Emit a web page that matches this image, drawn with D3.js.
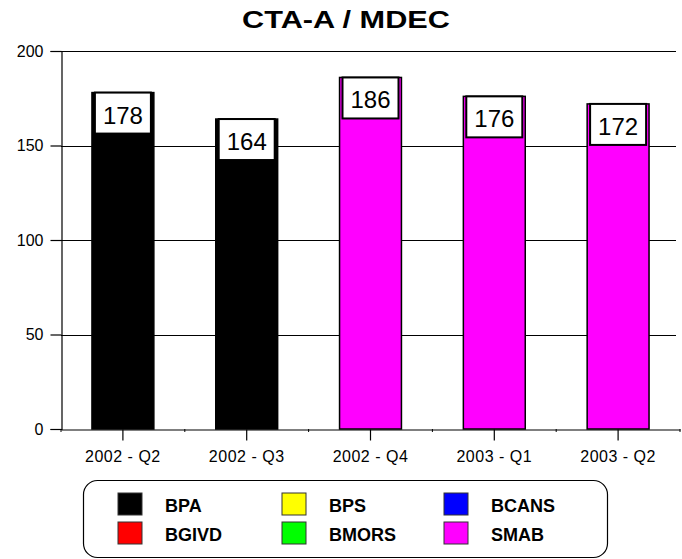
<!DOCTYPE html>
<html>
<head>
<meta charset="utf-8">
<script src="https://cdn.jsdelivr.net/npm/d3@7"></script>
<style>
  body { margin: 0; background: #fff; }
  svg { display: block; font-family: "Liberation Sans", Arial, sans-serif; }
</style>
</head>
<body>
<div id="chart"></div>
<script>
// Chart data
const quarters = ["2002 - Q2", "2002 - Q3", "2002 - Q4", "2003 - Q1", "2003 - Q2"];
const values = [178, 164, 186, 176, 172];
const barSeries = ["BPA", "BPA", "SMAB", "SMAB", "SMAB"];
const yTicks = [0, 50, 100, 150, 200];
const legendNames = ["BPA", "BPS", "BCANS", "BGIVD", "BMORS", "SMAB"];
const legendColors = ["#000000", "#ffff00", "#0000ff", "#ff0000", "#00ff00", "#ff00ff"];

const width = 682;
const height = 559;

const svg = d3.select("#chart")
    .append("svg")
    .attr("width", width)
    .attr("height", height);

const color = d3.scaleOrdinal().domain(legendNames).range(legendColors);

// Scales
const x = d3.scaleBand()
    .domain(quarters)
    .range([61, 680])
    .paddingInner(0.5)
    .paddingOuter(0.25);

const y = d3.scaleLinear()
    .domain([0, 200])
    .range([429, 51]);

// Title (wide bold face, stretched to the original's width)
svg.append("text")
    .attr("x", 242)
    .attr("y", 28)
    .attr("textLength", 208)
    .attr("lengthAdjust", "spacingAndGlyphs")
    .style("font-size", "23px")
    .style("font-weight", "bold")
    .text("CTA-A / MDEC");

// Gridlines
svg.append("g")
    .selectAll("line")
    .data(yTicks.filter(d => d > 0))
    .enter()
    .append("line")
    .attr("x1", 61)
    .attr("x2", 676)
    .attr("y1", d => Math.round(y(d)) + 0.5)
    .attr("y2", d => Math.round(y(d)) + 0.5)
    .attr("stroke", "#000")
    .attr("stroke-width", 1.2);

// Y axis
const yAxis = svg.append("g")
    .attr("transform", "translate(61.5,0)")
    .call(d3.axisLeft(y).tickValues(yTicks).tickSize(11).tickPadding(7));
yAxis.select(".domain").attr("stroke-width", 1.2);
yAxis.selectAll(".tick line").attr("stroke-width", 1.2);
yAxis.selectAll("text")
    .style("font-size", "16px")
    .style("font-family", "Liberation Sans, Arial, sans-serif");

// Bars
svg.append("g")
    .selectAll("rect")
    .data(values)
    .enter()
    .append("rect")
    .attr("x", (d, i) => x(quarters[i]))
    .attr("y", d => y(d))
    .attr("width", x.bandwidth())
    .attr("height", d => y(0) - y(d))
    .attr("fill", (d, i) => color(barSeries[i]))
    .attr("stroke", "#000")
    .attr("stroke-width", 1.5);

// Value label boxes
const labels = svg.append("g")
    .selectAll("g")
    .data(values)
    .enter()
    .append("g")
    .attr("transform", (d, i) => `translate(${x(quarters[i]) + x.bandwidth() / 2},${y(d)})`);

labels.append("rect")
    .attr("x", -28)
    .attr("y", 0)
    .attr("width", 56)
    .attr("height", 41)
    .attr("fill", "#fff")
    .attr("stroke", "#000")
    .attr("stroke-width", 2);

labels.append("text")
    .attr("x", 0)
    .attr("y", 31)
    .attr("text-anchor", "middle")
    .style("font-size", "24px")
    .text(d => d);

// X axis
const xAxis = svg.append("g")
    .attr("transform", "translate(0,429.5)")
    .call(d3.axisBottom(x).tickSize(11).tickPadding(10).tickSizeOuter(0));
xAxis.select(".domain").attr("stroke-width", 1.2);
xAxis.selectAll(".tick line").attr("stroke-width", 1.2);
xAxis.selectAll("text")
    .style("font-size", "16px")
    .style("letter-spacing", "0.5px")
    .style("font-family", "Liberation Sans, Arial, sans-serif");

// small separator ticks between categories
const seps = d3.range(quarters.length + 1).map(i => 61 + i * x.step());
svg.append("g")
    .selectAll("line")
    .data(seps)
    .enter()
    .append("line")
    .attr("x1", d => d)
    .attr("x2", d => d)
    .attr("y1", 429)
    .attr("y2", 432)
    .attr("stroke", "#000");

// Legend
const legend = svg.append("g").attr("transform", "translate(83,480)");
legend.append("rect")
    .attr("x", 0.5)
    .attr("y", 0.5)
    .attr("width", 524)
    .attr("height", 77)
    .attr("rx", 14)
    .attr("fill", "#fff")
    .attr("stroke", "#000")
    .attr("stroke-width", 1.2);

const colX = [35, 199, 361];
const items = legend.selectAll(".item")
    .data(legendNames)
    .enter()
    .append("g")
    .attr("class", "item")
    .attr("transform", (d, i) => `translate(${colX[i % 3]},${i < 3 ? 13 : 42})`);

items.append("rect")
    .attr("width", 24)
    .attr("height", 22)
    .attr("fill", d => color(d))
    .attr("stroke", "#333")
    .attr("stroke-width", 1);

items.append("text")
    .attr("x", 47)
    .attr("y", 19)
    .style("font-size", "18px")
    .style("font-weight", "bold")
    .text(d => d);
</script>
</body>
</html>
